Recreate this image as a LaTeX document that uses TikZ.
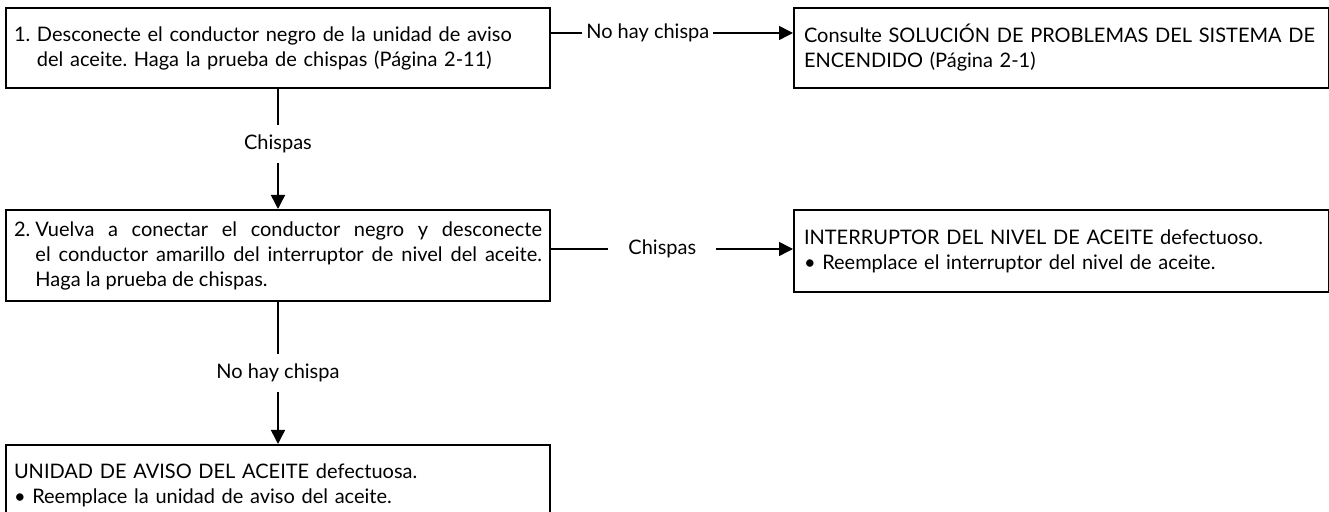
\documentclass[tikz,border=0pt]{standalone}
\usepackage{fontspec}
\setmainfont{Lato}
\usetikzlibrary{positioning,arrows.meta}
\frenchspacing
\newcommand{\colgar}[1]{\setbox0\hbox{#1\ }\hangindent=\wd0 \hangafter=1 \leavevmode\box0}

\begin{document}
\begin{tikzpicture}[x=0.5pt, y=-0.5pt, font=\fontsize{10}{12.5}\selectfont,
  paso/.style={draw, line width=1pt, align=justify, text width=264pt, inner xsep=4pt, minimum height=40pt},
  res/.style={draw, line width=1pt, align=left, text width=257.5pt, inner xsep=5pt, minimum height=40pt},
  flecha/.style={line width=0.75pt, -{Triangle[length=7pt, width=7pt]}},
  etq/.style={fill=white, inner xsep=2pt, inner ysep=5pt}]
\useasboundingbox (0,0) rectangle (1329,512);
% left column
\node[paso, anchor=north west, align=left] (p1) at (5,7) {\colgar{1.}Desconecte el conductor negro de la unidad de aviso\linebreak del aceite. Haga la prueba de chispas (Página 2-11)\par};
\node[paso, below=60pt of p1, minimum height=45.5pt] (p2) {\colgar{2.}Vuelva a conectar el conductor negro y desconecte\linebreak el conductor amarillo del interruptor de nivel del aceite.\linebreak Haga la prueba de chispas.\par};
\node[paso, below=71pt of p2, align=left] (p3) {UNIDAD DE AVISO DEL ACEITE defectuosa.\\\textbullet\ Reemplace la unidad de aviso del aceite.};
\draw[flecha] (p1) -- node[etq, pos=0.46]{Chispas} (p2);
\draw[flecha] (p2) -- node[etq]{No hay chispa} (p3);
% right column
\node[res, right=121pt of p1.north east, anchor=north west] (r1) {Consulte SOLUCIÓN DE PROBLEMAS DEL SISTEMA DE\\ENCENDIDO (Página 2-1)};
\node[res, right=121pt of p2.north east, anchor=north west, minimum height=41pt] (r2) {INTERRUPTOR DEL NIVEL DE ACEITE defectuoso.\\\textbullet\ Reemplace el interruptor del nivel de aceite.};
\coordinate (a1) at ([yshift=-13pt]p1.north east);
\coordinate (a2) at ([yshift=-20pt]p2.north east);
\draw[flecha] (a1) -- node[etq, pos=0.4]{No hay chispa} (a1 -| r1.west);
\draw[flecha] (a2) -- node[etq, pos=0.46, inner xsep=10pt]{Chispas} (a2 -| r2.west);
\end{tikzpicture}
\end{document}
